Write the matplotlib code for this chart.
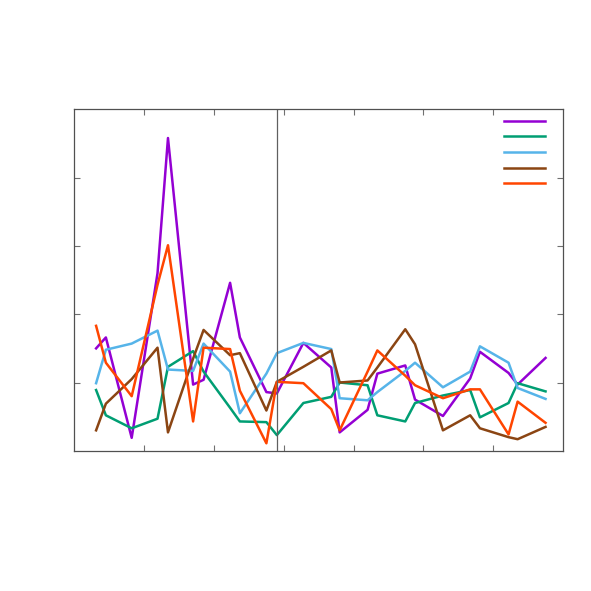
import matplotlib
matplotlib.use("Agg")
import matplotlib.pyplot as plt

# posicoes no eixo x (espacamento irregular)
x = [0.31, 0.45, 0.82, 1.19, 1.34, 1.70, 1.85, 2.23, 2.37, 2.75, 2.90, 3.28,
     3.68, 3.80, 4.20, 4.34, 4.74, 4.88, 5.28, 5.67, 5.81, 6.22, 6.35, 6.75]

roxo = [1.50, 1.66, 0.19, 2.60, 4.58, 0.97, 1.04, 2.46, 1.66, 0.86, 0.84, 1.58,
        1.22, 0.27, 0.60, 1.13, 1.25, 0.75, 0.51, 1.06, 1.45, 1.14, 0.97, 1.36]
verde = [0.89, 0.52, 0.33, 0.47, 1.23, 1.46, 1.16, 0.63, 0.43, 0.42, 0.23, 0.70,
         0.79, 1.00, 0.96, 0.52, 0.43, 0.70, 0.81, 0.89, 0.49, 0.70, 0.99, 0.87]
azul = [0.99, 1.48, 1.57, 1.76, 1.19, 1.17, 1.57, 1.16, 0.55, 1.13, 1.43, 1.58,
        1.49, 0.77, 0.74, 0.86, 1.17, 1.29, 0.93, 1.16, 1.53, 1.29, 0.92, 0.76]
marrom = [0.30, 0.69, 1.05, 1.51, 0.27, 1.35, 1.77, 1.40, 1.43, 0.59, 1.01, 1.23,
          1.47, 1.00, 1.03, 1.22, 1.78, 1.56, 0.30, 0.52, 0.33, 0.20, 0.17, 0.35]
laranja = [1.83, 1.29, 0.80, 2.43, 3.01, 0.43, 1.51, 1.49, 0.88, 0.11, 1.01, 0.99,
           0.61, 0.30, 1.16, 1.47, 1.10, 0.96, 0.77, 0.90, 0.90, 0.24, 0.72, 0.41]

series = [roxo, verde, azul, marrom, laranja]
cores = ['#9400d3', '#009e73', '#56b4e9', '#8b4513', '#ff4500']

# linha vertical de referencia
x_marca = 2.90

fig = plt.figure(figsize=(5.91, 5.91), dpi=100)
ax = fig.add_axes([0.126, 0.2372, 0.8266, 0.5778])

for s, c in zip(series, cores):
    ax.plot(x, s, color=c, lw=1.8)

ax.axvline(x_marca, color='#606060', lw=0.9)

# amostras da legenda (sem titulos)
for i, c in enumerate(cores):
    yy = 0.966 - 0.0455 * i
    ax.plot([0.879, 0.963], [yy, yy], color=c, lw=1.8, transform=ax.transAxes)

ax.set_xlim(0, 7)
ax.set_ylim(0, 5)
ax.set_xticks([1, 2, 3, 4, 5, 6])
ax.set_yticks([1, 2, 3, 4])
ax.set_xticklabels([])
ax.set_yticklabels([])
ax.tick_params(direction='in', length=4, width=0.8, color='#707070',
               top=True, right=True)
for sp in ax.spines.values():
    sp.set_color('#505050')
    sp.set_linewidth(0.9)

fig.savefig('out.png', dpi=100)
